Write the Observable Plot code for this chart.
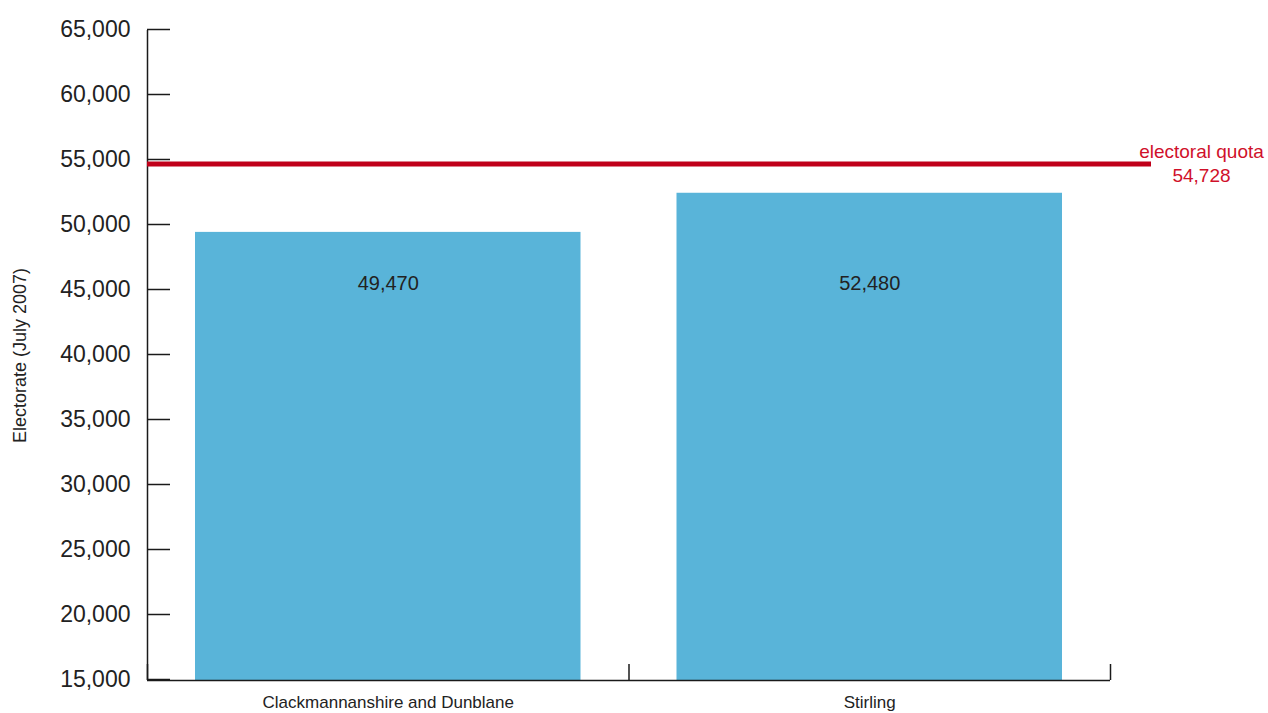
<!DOCTYPE html>
<html>
<head>
<meta charset="utf-8">
<script src="https://cdn.jsdelivr.net/npm/d3@7"></script>
<script src="https://cdn.jsdelivr.net/npm/@observablehq/plot@0.6"></script>
<style>
  html, body { margin: 0; padding: 0; background: #fff; }
  #chart svg { display: block; }
</style>
</head>
<body>
<div id="chart"></div>
<script>
const categories = ["Clackmannanshire and Dunblane", "Stirling"];
const electorate = [49470, 52480];
const quota = 54728;
const quotaLabel = "electoral quota";
const yTicks = [15000, 20000, 25000, 30000, 35000, 40000, 45000, 50000, 55000, 60000, 65000];
const yTitle = "Electorate (July 2007)";

const data = categories.map((c, i) => ({category: c, value: electorate[i], i}));
const fmt = d3.format(",");
const font = "Liberation Sans, Arial, Helvetica, sans-serif";
const axisColor = "#1a1a1a";

const plot = Plot.plot({
  width: 1268,
  height: 713,
  marginTop: 30,
  marginBottom: 33,
  marginLeft: 147,
  marginRight: 158,
  style: {fontFamily: font, background: "#fff", color: "#333"},
  x: {domain: [0, categories.length], axis: null},
  y: {domain: [15000, 65000], axis: null},
  marks: [
    Plot.rectY(data, {
      x1: d => d.i, x2: d => d.i + 1, y1: 15000, y2: "value",
      insetLeft: 48, insetRight: 48, fill: "#59b4d9"
    }),
    Plot.text(data, {
      x: d => d.i + 0.5, frameAnchor: "top", dy: 245,
      text: d => fmt(d.value), fontSize: 20, fill: "#222"
    }),
    // y axis
    Plot.axisY({
      ticks: yTicks, tickFormat: fmt, tickSize: -23, tickPadding: 40,
      fontSize: 23, stroke: axisColor, strokeWidth: 1.5, fill: "#222",
      label: null, dy: -1
    }),
    Plot.ruleX([0], {y1: 15000, y2: 65000, stroke: axisColor, strokeWidth: 1.5}),
    Plot.ruleY([15000], {x1: 0, x2: categories.length, stroke: axisColor, strokeWidth: 1.5}),
    // x axis: boundary ticks and category labels
    Plot.axisX({
      ticks: d3.range(categories.length + 1), tickSize: -16, text: null,
      stroke: axisColor, strokeWidth: 1.5
    }),
    Plot.axisX({
      ticks: categories.map((c, i) => i + 0.5), tickSize: 0, tickPadding: 15,
      tickFormat: v => categories[Math.floor(v)], fontSize: 17, fill: "#222", label: null
    }),
    // y title
    Plot.text([yTitle], {
      frameAnchor: "left", textAnchor: "middle", rotate: -90, dx: -127,
      fontSize: 18, fill: "#222"
    }),
    // quota line
    Plot.ruleY([quota], {
      x1: 0, x2: categories.length, insetRight: -41,
      stroke: "#c0001a", strokeWidth: 5
    }),
    Plot.text([quota], {
      x: categories.length, y: d => d, dx: 91, dy: -2,
      text: d => `${quotaLabel}\n${fmt(d)}`, lineHeight: 1.28,
      fontSize: 19, fill: "#d0102a"
    })
  ]
});
document.getElementById("chart").appendChild(plot);
</script>
</body>
</html>
